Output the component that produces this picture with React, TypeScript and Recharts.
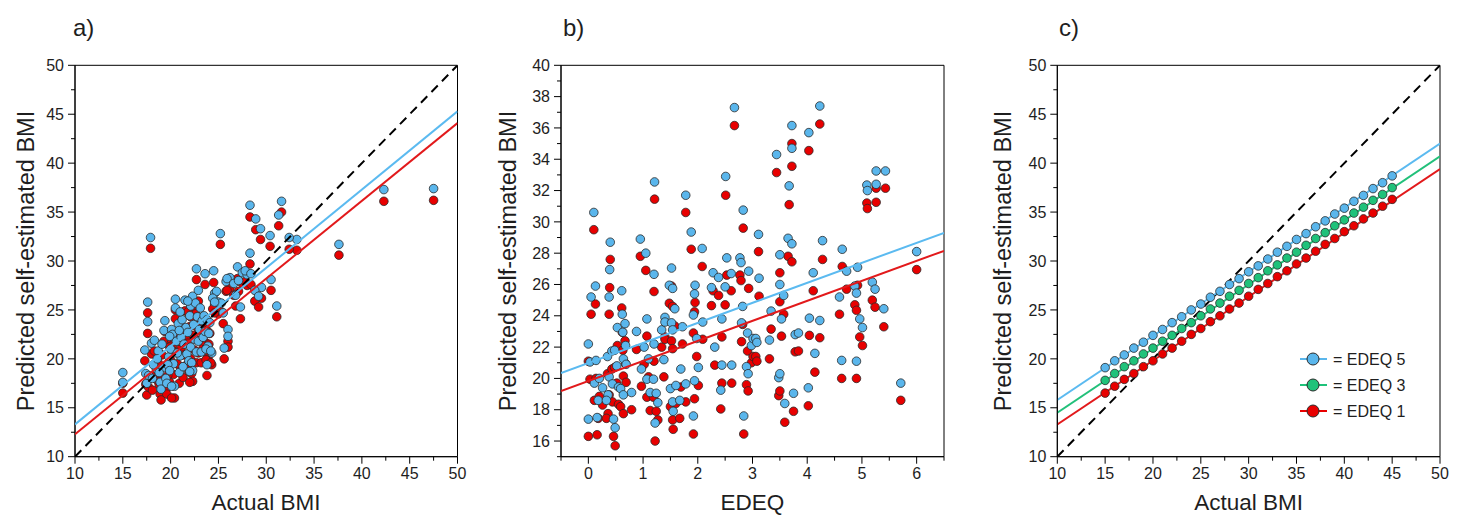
import React from 'react';
import { ComposedChart, Scatter, Line, XAxis, YAxis, Legend, ReferenceArea } from 'recharts';

// ---- panel a: actual BMI vs predicted self-estimated BMI ----
const aX = [
  15.0, 15.0, 17.9, 17.6, 17.6, 17.3, 17.4, 17.5, 17.7, 42.3,
  47.5, 37.6, 31.1, 28.3, 28.9, 29.4, 31.6, 31.3, 30.4, 25.2,
  22.7, 24.5, 23.6, 28.3, 33.2, 32.4, 30.5, 29.5, 28.8, 29.2,
  27.0, 27.5, 28.0, 27.3, 26.0, 26.0, 25.6, 25.5, 25.0, 25.3,
  24.6, 24.8, 25.8, 26.2, 25.9, 26.6, 26.8, 27.1, 27.8, 28.4,
  24.3, 23.8, 23.9, 18.0, 18.3, 18.5, 18.7, 18.9, 19.0, 19.2,
  19.3, 19.4, 19.5, 19.6, 19.8, 20.0, 20.1, 20.2, 20.3, 20.4,
  20.5, 20.5, 20.6, 20.8, 20.9, 21.0, 21.1, 21.2, 21.3, 21.4,
  21.5, 21.6, 21.7, 21.8, 21.9, 22.0, 22.1, 22.1, 22.2, 22.3,
  22.4, 22.5, 22.6, 22.7, 22.8, 22.9, 23.0, 23.2, 23.3, 23.4,
  23.5, 23.6, 23.7, 23.8, 24.0, 24.2, 24.4, 24.6, 18.1, 18.2,
  18.6, 18.8, 19.1, 19.7, 19.9, 20.7, 20.1, 22.3, 22.0, 21.0,
  21.8, 23.1, 19.9, 20.9, 24.1, 22.9,
];
const aBlue = [
  18.6, 17.6, 32.4, 25.8, 23.8, 20.9, 18.5, 17.5, 18.3, 37.3,
  37.4, 31.7, 25.4, 35.7, 34.3, 33.3, 36.1, 34.7, 32.6, 32.8,
  29.2, 29.0, 28.7, 30.8, 32.2, 32.4, 28.1, 27.3, 27.0, 26.4,
  29.4, 28.8, 28.6, 25.3, 23.0, 22.3, 21.1, 24.7, 25.8, 25.7,
  26.7, 26.9, 27.9, 28.3, 28.2, 27.7, 26.5, 28.0, 29.0, 28.7,
  20.6, 19.4, 21.3, 21.6, 21.9, 19.0, 20.8, 17.6, 16.9, 19.1,
  22.9, 23.9, 18.0, 17.5, 20.2, 21.0, 23.0, 22.5, 19.5, 17.2,
  25.2, 26.1, 21.8, 23.6, 18.6, 20.3, 22.2, 24.0, 19.2, 21.5,
  26.0, 23.2, 20.5, 22.7, 19.8, 24.4, 25.4, 21.2, 19.6, 26.4,
  23.5, 22.0, 25.7, 20.7, 24.3, 21.8, 23.0, 20.7, 23.9, 22.2,
  24.4, 22.8, 21.0, 24.0, 22.6, 20.8, 26.2, 25.8, 18.0, 19.4,
  20.0, 18.6, 21.5, 19.4, 18.8, 20.6, 17.2, 18.8, 18.7, 24.8,
  25.9, 25.2, 22.3, 22.9, 23.7, 27.0,
];
const aRed = [
  17.5, 16.5, 31.3, 24.7, 22.6, 19.8, 17.4, 16.3, 17.1, 36.1,
  36.2, 30.6, 24.3, 34.5, 33.2, 32.2, 35.0, 33.6, 31.5, 31.7,
  28.1, 27.8, 27.6, 29.7, 31.1, 31.2, 27.0, 26.2, 25.9, 25.3,
  28.2, 27.7, 27.5, 24.1, 21.8, 21.2, 20.0, 23.6, 24.6, 24.8,
  25.6, 25.8, 26.9, 27.2, 27.0, 26.5, 25.4, 26.9, 27.9, 27.6,
  19.4, 18.3, 20.1, 20.5, 20.8, 17.9, 19.6, 16.4, 15.8, 18.0,
  21.8, 22.8, 16.9, 16.4, 19.1, 19.9, 21.9, 21.4, 18.4, 16.0,
  24.1, 25.0, 20.7, 22.5, 17.5, 19.2, 21.1, 22.8, 18.1, 20.4,
  24.9, 22.1, 19.4, 21.6, 18.7, 23.3, 24.3, 20.0, 18.5, 25.3,
  22.4, 20.9, 24.6, 19.6, 23.2, 20.6, 21.9, 19.6, 22.8, 21.1,
  23.3, 21.7, 19.9, 22.9, 21.5, 19.6, 25.1, 24.7, 16.8, 18.3,
  18.9, 17.4, 20.4, 18.3, 17.6, 19.5, 16.0, 17.7, 17.6, 23.7,
  24.8, 24.1, 21.2, 21.8, 22.6, 25.9,
];
const aLineX = [10, 50];
const aLineBlue = [13.3, 45.3];
const aLineRed = [12.3, 44.1];
const aIdentity = [10, 50];

// ---- panel b: EDEQ vs predicted self-estimated BMI ----
const bX = [
  0.00, 0.03, 0.00, 0.05, 0.10, 0.13, 0.14, 0.11, 0.16, 0.18,
  0.20, 0.26, 0.35, 0.38, 0.39, 0.40, 0.38, 0.36, 0.33, 0.43,
  0.44, 0.46, 0.49, 0.48, 0.52, 0.53, 0.55, 0.59, 0.61, 0.62,
  0.63, 0.64, 0.64, 0.67, 0.68, 0.69, 0.79, 0.88, 0.95, 0.97,
  1.02, 1.05, 1.07, 1.07, 1.10, 1.13, 1.19, 1.21, 1.20, 1.20,
  1.22, 1.24, 1.27, 1.34, 1.40, 1.40, 1.38, 1.48, 1.52, 1.54,
  1.52, 1.54, 1.50, 1.54, 1.55, 1.58, 1.60, 1.67, 1.69, 1.72,
  1.78, 1.78, 1.88, 1.92, 1.94, 1.95, 1.94, 1.92, 1.98, 2.01,
  2.09, 2.08, 2.25, 2.28, 2.31, 2.38, 2.44, 2.42, 2.44, 2.51,
  2.53, 2.50, 2.62, 2.67, 2.61, 2.77, 2.79, 2.80, 2.82, 2.83,
  2.84, 2.89, 2.91, 2.92, 2.93, 2.98, 3.01, 3.06, 3.08, 3.11,
  3.12, 3.31, 3.34, 3.44, 3.48, 3.50, 3.50, 3.50, 3.53, 3.57,
  3.59, 3.67, 3.65, 3.72, 3.72, 3.72, 3.75, 3.78, 3.84, 4.03,
  4.04, 4.02, 4.11, 4.14, 4.23, 4.23, 4.28, 4.59, 4.64, 4.63,
  4.72, 4.87, 4.90, 4.92, 4.90, 4.96, 5.01, 5.09, 5.10, 5.19,
  5.24, 5.26, 5.26, 5.43, 5.40, 5.71, 6.00,
];
const bBlue = [
  22.2, 21.05, 17.4, 25.2, 30.6, 25.9, 21.15, 19.7, 17.5, 18.6,
  20.0, 19.4, 21.4, 25.2, 26.95, 28.7, 20.1, 18.95, 18.6, 21.75,
  19.65, 17.4, 16.85, 21.8, 20.8, 23.25, 19.45, 19.35, 25.6, 24.1,
  22.95, 21.25, 18.95, 23.5, 22.1, 20.9, 19.1, 23.0, 28.9, 20.6,
  22.0, 28.0, 23.8, 19.95, 21.25, 19.1, 19.95, 32.55, 26.65, 22.2,
  17.15, 19.05, 18.45, 23.1, 23.9, 23.6, 21.2, 25.95, 27.05, 25.75,
  23.55, 23.1, 19.35, 18.5, 17.9, 24.45, 19.55, 18.6, 20.6, 23.3,
  31.7, 19.65, 29.35, 24.05, 25.4, 25.95, 19.85, 17.6, 22.55, 20.7,
  23.6, 28.3, 25.8, 26.75, 22.0, 26.45, 23.8, 19.25, 20.85, 32.9,
  27.7, 25.85, 20.85, 37.3, 26.7, 27.7, 27.4, 23.55, 24.6, 30.75,
  17.6, 20.75, 22.9, 20.3, 26.85, 22.1, 22.55, 22.55, 22.3, 29.2,
  26.4, 22.45, 24.3, 34.3, 20.05, 20.3, 26.0, 27.9, 23.8, 25.3,
  18.4, 32.3, 28.95, 36.15, 34.7, 28.6, 19.05, 22.8, 22.9, 35.7,
  23.85, 19.4, 26.75, 21.6, 37.4, 23.7, 28.8, 25.2, 28.25, 21.15,
  26.85, 25.9, 25.45, 27.1, 21.1, 23.8, 23.25, 32.35, 32.0, 26.15,
  25.7, 33.25, 32.4, 33.25, 24.45, 19.7, 28.1,
];
const bRed = [
  21.1, 19.95, 16.3, 24.1, 29.5, 24.75, 20.0, 18.6, 16.4, 17.45,
  18.85, 18.3, 20.3, 24.1, 25.8, 27.6, 18.95, 17.75, 17.45, 20.6,
  18.5, 16.3, 15.7, 20.7, 19.7, 22.1, 18.35, 18.2, 24.5, 22.95,
  21.8, 20.15, 17.75, 22.4, 20.95, 19.75, 18.0, 21.85, 27.8, 19.5,
  20.9, 26.9, 22.7, 18.8, 20.1, 17.95, 18.8, 31.45, 25.55, 21.1,
  16.0, 17.9, 17.35, 22.0, 22.65, 22.5, 20.1, 24.8, 25.9, 24.6,
  22.4, 21.9, 18.2, 17.35, 16.75, 23.35, 18.4, 17.45, 19.45, 22.2,
  30.6, 18.5, 28.25, 22.9, 24.25, 24.85, 18.7, 16.45, 21.4, 19.55,
  22.5, 27.15, 24.65, 25.6, 20.85, 25.3, 22.65, 18.05, 19.7, 31.7,
  26.6, 24.7, 19.7, 36.15, 25.6, 26.6, 26.25, 22.35, 23.45, 29.6,
  16.45, 19.6, 21.75, 19.2, 25.75, 21.0, 21.4, 21.4, 21.1, 28.1,
  25.25, 21.25, 23.15, 33.15, 18.9, 19.2, 24.9, 26.75, 22.7, 24.1,
  17.2, 31.1, 27.8, 35.0, 33.55, 27.45, 17.9, 21.7, 21.75, 34.55,
  22.75, 18.25, 25.6, 20.4, 36.25, 22.6, 27.6, 24.1, 27.15, 20.0,
  25.7, 24.7, 24.35, 25.95, 20.0, 22.65, 22.1, 31.2, 30.85, 25.0,
  24.55, 32.15, 31.25, 32.15, 23.3, 18.6, 26.95,
];
const bLineX = [-0.5, 6.5];
const bLineBlue = [20.35, 29.3];
const bLineRed = [19.2, 28.15];

// ---- panel c: model predictions at three EDEQ levels ----
const cX = [
  15, 16, 17, 18, 19, 20, 21, 22, 23, 24, 25, 26, 27, 28, 29, 30,
  31, 32, 33, 34, 35, 36, 37, 38, 39, 40, 41, 42, 43, 44, 45,
];
const cBlue = [
  19.1, 19.8, 20.4, 21.1, 21.7, 22.4, 23.0, 23.7, 24.3, 25.0, 25.6, 26.3, 26.9, 27.6, 28.2, 28.9,
  29.5, 30.2, 30.9, 31.5, 32.2, 32.8, 33.5, 34.1, 34.8, 35.4, 36.1, 36.7, 37.4, 38.0, 38.7,
];
const cGreen = [
  17.8, 18.5, 19.2, 19.8, 20.5, 21.1, 21.8, 22.4, 23.1, 23.7, 24.4, 25.1, 25.7, 26.4, 27.0, 27.7,
  28.3, 29.0, 29.6, 30.3, 30.9, 31.6, 32.3, 32.9, 33.6, 34.2, 34.9, 35.5, 36.2, 36.8, 37.5,
];
const cRed = [
  16.5, 17.2, 17.9, 18.5, 19.2, 19.8, 20.5, 21.1, 21.8, 22.5, 23.1, 23.8, 24.4, 25.1, 25.7, 26.4,
  27.1, 27.7, 28.4, 29.0, 29.7, 30.3, 31.0, 31.7, 32.3, 33.0, 33.6, 34.3, 34.9, 35.6, 36.3,
];
const cLineX = [10, 50];
const cLineBlue = [15.8, 42.0];
const cLineGreen = [14.5, 40.7];
const cLineRed = [13.3, 39.4];

// ---- ticks ----
const bmiTicks = [10, 12.5, 15, 17.5, 20, 22.5, 25, 27.5, 30, 32.5, 35, 37.5, 40, 42.5, 45, 47.5, 50];
const bmiMajor = [10, 15, 20, 25, 30, 35, 40, 45, 50];
const edeqTicks = [-0.5, 0, 0.5, 1, 1.5, 2, 2.5, 3, 3.5, 4, 4.5, 5, 5.5, 6, 6.5];
const edeqMajor = [0, 1, 2, 3, 4, 5, 6];
const bYTicks = [15, 16, 17, 18, 19, 20, 21, 22, 23, 24, 25, 26, 27, 28, 29, 30, 31, 32, 33, 34, 35, 36, 37, 38, 39, 40];
const bYMajor = [16, 18, 20, 22, 24, 26, 28, 30, 32, 34, 36, 38, 40];

const FONT = '"Liberation Sans", Arial, sans-serif';
const TXT = '#1e1e1e';
const DOT_BLUE = '#5ab6ec';
const DOT_RED = '#e80000';
const DOT_GREEN = '#1fc27a';
const LINE_BLUE = '#5bbaf0';
const LINE_RED = '#e2191b';
const LINE_GREEN = '#22c07a';

const pts = (xs: number[], ys: number[]) => xs.map((x, i) => ({ x, y: ys[i] }));

const dot = (fill: string, r = 4.3) => (p: any) => (
  <circle cx={p.cx} cy={p.cy} r={r} fill={fill} stroke="#2a2a2a" strokeWidth={0.8} />
);

// draws major/minor tick marks plus labels for the majors
const makeTick = (axis: 'x' | 'y', majors: number[]) => (props: any) => {
  const { x, y, payload } = props;
  const v = payload.value;
  const major = majors.includes(v);
  const len = major ? 7 : 4;
  if (axis === 'x') {
    return (
      <g>
        <line x1={x} y1={y} x2={x} y2={y + len} stroke="#000" strokeWidth={1} />
        {major && (
          <text x={x} y={y + 22.5} textAnchor="middle" fontSize={16} fill={TXT} fontFamily={FONT}>
            {v}
          </text>
        )}
      </g>
    );
  }
  return (
    <g>
      <line x1={x - len} y1={y} x2={x} y2={y} stroke="#000" strokeWidth={1} />
      {major && (
        <text x={x - 11} y={y + 5.7} textAnchor="end" fontSize={16} fill={TXT} fontFamily={FONT}>
          {v}
        </text>
      )}
    </g>
  );
};

const EdeqLegend = ({ payload }: any) => {
  const items = (payload || [])
    .filter((p: any) => p.type !== 'none')
    .slice()
    .sort((a: any, b: any) => String(b.value).localeCompare(String(a.value)));
  return (
    <svg width={120} height={80} style={{ display: 'block' }}>
      {items.map((p: any, i: number) => (
        <g key={p.value} transform={`translate(0, ${10 + i * 26})`}>
          <line x1={0} x2={27} y1={0} y2={0} stroke={p.color} strokeWidth={2} />
          <circle cx={13} cy={0} r={6} fill={p.color} stroke="#2a2a2a" strokeWidth={1} />
          <text x={33} y={5.7} fontSize={16} fill={TXT} fontFamily={FONT}>
            {p.value}
          </text>
        </g>
      ))}
    </svg>
  );
};

interface PanelProps {
  left: number;
  width: number;
  marginLeft: number;
  marginRight: number;
  xDomain: [number, number];
  yDomain: [number, number];
  xTicks: number[];
  xMajor: number[];
  yTicks: number[];
  yMajor: number[];
  children: React.ReactNode;
}

const Panel: React.FC<PanelProps> = ({
  left, width, marginLeft, marginRight, xDomain, yDomain, xTicks, xMajor, yTicks, yMajor, children,
}) => (
  <div style={{ position: 'absolute', left, top: 0 }}>
    <ComposedChart
      width={width}
      height={515}
      margin={{ top: 65.3, right: marginRight, bottom: 18.3, left: marginLeft }}
    >
      <XAxis
        type="number"
        dataKey="x"
        domain={xDomain}
        ticks={xTicks}
        interval={0}
        allowDataOverflow
        tickSize={0}
        tickMargin={0}
        tickLine={false}
        tick={makeTick('x', xMajor)}
        axisLine={{ stroke: '#000', strokeWidth: 1 }}
        height={40}
      />
      <YAxis
        type="number"
        dataKey="y"
        domain={yDomain}
        ticks={yTicks}
        interval={0}
        allowDataOverflow
        tickSize={0}
        tickMargin={0}
        tickLine={false}
        tick={makeTick('y', yMajor)}
        axisLine={{ stroke: '#000', strokeWidth: 1 }}
        width={60}
      />
      {/* plot frame (top and right edges) */}
      <ReferenceArea
        x1={xDomain[0]}
        x2={xDomain[1]}
        y1={yDomain[0]}
        y2={yDomain[1]}
        fill="none"
        fillOpacity={0}
        stroke="#000"
        strokeWidth={1}
      />
      {children}
    </ComposedChart>
  </div>
);

const App: React.FC = () => (
  <div style={{ position: 'absolute', left: 0, top: 0, width: 1463, height: 515, background: '#fff', overflow: 'hidden' }}>
    {/* a) */}
    <Panel
      left={0} width={480} marginLeft={15} marginRight={22.5}
      xDomain={[10, 50]} yDomain={[10, 50]}
      xTicks={bmiTicks} xMajor={bmiMajor} yTicks={bmiTicks} yMajor={bmiMajor}
    >
      <Scatter name="red" data={pts(aX, aRed)} dataKey="y" fill={DOT_RED} shape={dot(DOT_RED)} isAnimationActive={false} />
      <Scatter name="blue" data={pts(aX, aBlue)} dataKey="y" fill={DOT_BLUE} shape={dot(DOT_BLUE)} isAnimationActive={false} />
      <Line data={pts(aLineX, aIdentity)} dataKey="y" type="linear" stroke="#000" strokeWidth={2} strokeDasharray="9 6" dot={false} activeDot={false} isAnimationActive={false} zIndex={700} />
      <Line data={pts(aLineX, aLineBlue)} dataKey="y" type="linear" stroke={LINE_BLUE} strokeWidth={2} dot={false} activeDot={false} isAnimationActive={false} zIndex={700} />
      <Line data={pts(aLineX, aLineRed)} dataKey="y" type="linear" stroke={LINE_RED} strokeWidth={2} dot={false} activeDot={false} isAnimationActive={false} zIndex={700} />
    </Panel>

    {/* b) */}
    <Panel
      left={480} width={480} marginLeft={21} marginRight={16}
      xDomain={[-0.5, 6.5]} yDomain={[15, 40]}
      xTicks={edeqTicks} xMajor={edeqMajor} yTicks={bYTicks} yMajor={bYMajor}
    >
      <Scatter name="red" data={pts(bX, bRed)} dataKey="y" fill={DOT_RED} shape={dot(DOT_RED)} isAnimationActive={false} />
      <Scatter name="blue" data={pts(bX, bBlue)} dataKey="y" fill={DOT_BLUE} shape={dot(DOT_BLUE)} isAnimationActive={false} />
      <Line data={pts(bLineX, bLineBlue)} dataKey="y" type="linear" stroke={LINE_BLUE} strokeWidth={2} dot={false} activeDot={false} isAnimationActive={false} zIndex={700} />
      <Line data={pts(bLineX, bLineRed)} dataKey="y" type="linear" stroke={LINE_RED} strokeWidth={2} dot={false} activeDot={false} isAnimationActive={false} zIndex={700} />
    </Panel>

    {/* c) */}
    <Panel
      left={970} width={493} marginLeft={27.3} marginRight={23}
      xDomain={[10, 50]} yDomain={[10, 50]}
      xTicks={bmiTicks} xMajor={bmiMajor} yTicks={bmiTicks} yMajor={bmiMajor}
    >
      <Line data={pts(cLineX, cLineX)} dataKey="y" type="linear" stroke="#000" strokeWidth={2} strokeDasharray="9 6" dot={false} activeDot={false} legendType="none" isAnimationActive={false} />
      <Line data={pts(cLineX, cLineBlue)} dataKey="y" type="linear" stroke={LINE_BLUE} strokeWidth={2} dot={false} activeDot={false} legendType="none" isAnimationActive={false} />
      <Line data={pts(cLineX, cLineGreen)} dataKey="y" type="linear" stroke={LINE_GREEN} strokeWidth={2} dot={false} activeDot={false} legendType="none" isAnimationActive={false} />
      <Line data={pts(cLineX, cLineRed)} dataKey="y" type="linear" stroke={LINE_RED} strokeWidth={2} dot={false} activeDot={false} legendType="none" isAnimationActive={false} />
      <Scatter name="= EDEQ 5" data={pts(cX, cBlue)} dataKey="y" fill={DOT_BLUE} shape={dot(DOT_BLUE)} isAnimationActive={false} />
      <Scatter name="= EDEQ 3" data={pts(cX, cGreen)} dataKey="y" fill={DOT_GREEN} shape={dot(DOT_GREEN)} isAnimationActive={false} />
      <Scatter name="= EDEQ 1" data={pts(cX, cRed)} dataKey="y" fill={DOT_RED} shape={dot(DOT_RED)} isAnimationActive={false} />
      <Legend
        layout="vertical"
        align="center"
        verticalAlign="middle"
        content={<EdeqLegend />}
        wrapperStyle={{ left: 330, top: 349, width: 120, height: 80, margin: 0, padding: 0 }}
      />
    </Panel>

    {/* panel letters and axis titles */}
    <svg width={1463} height={515} style={{ position: 'absolute', left: 0, top: 0, pointerEvents: 'none' }} fontFamily={FONT} fill={TXT}>
      <text x={73} y={35.5} fontSize={24}>a)</text>
      <text x={563} y={35.5} fontSize={24}>b)</text>
      <text x={1059} y={35.5} fontSize={24}>c)</text>
      <text x={266} y={509.5} fontSize={22.5} textAnchor="middle">Actual BMI</text>
      <text x={752.5} y={509.5} fontSize={22.5} textAnchor="middle">EDEQ</text>
      <text x={1248.7} y={509.5} fontSize={22.5} textAnchor="middle">Actual BMI</text>
      <text x={34} y={261} fontSize={23.5} textAnchor="middle" transform="rotate(-90 34 261)">Predicted self-estimated BMI</text>
      <text x={516} y={261} fontSize={23.5} textAnchor="middle" transform="rotate(-90 516 261)">Predicted self-estimated BMI</text>
      <text x={1011} y={261} fontSize={23.5} textAnchor="middle" transform="rotate(-90 1011 261)">Predicted self-estimated BMI</text>
    </svg>
  </div>
);

export default App;
